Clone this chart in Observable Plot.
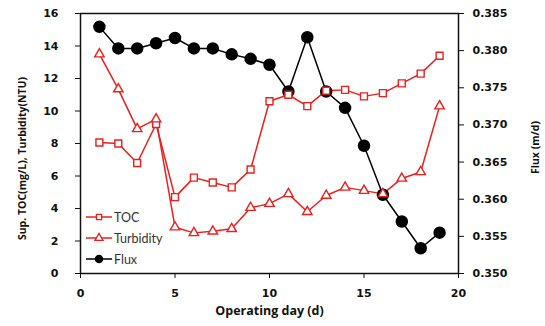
<!DOCTYPE html>
<html><head>
<meta charset="utf-8">
<script src="https://cdn.jsdelivr.net/npm/d3@7"></script>
<script src="https://cdn.jsdelivr.net/npm/@observablehq/plot@0.6"></script>
<style>
body{margin:0;background:#fff}
#wrap{position:relative;width:545px;height:326px;font-family:Lato,"Open Sans",sans-serif}
#legend{position:absolute;left:83px;top:205px}
</style>
</head><body><div id="wrap"></div>
<script>
const days = [1,2,3,4,5,6,7,8,9,10,11,12,13,14,15,16,17,18,19];
const toc = [8.06,8.0,6.8,9.2,4.7,5.9,5.6,5.3,6.4,10.6,11.0,10.3,11.25,11.3,10.9,11.1,11.7,12.3,13.4];
const turbidity = [13.5,11.35,8.9,9.5,2.85,2.5,2.6,2.75,4.05,4.3,4.9,3.8,4.8,5.3,5.1,4.9,5.85,6.25,10.3];
const flux = [0.3832,0.3803,0.3803,0.3810,0.3817,0.3803,0.3803,0.3795,0.3789,0.3781,0.3745,0.3818,0.3745,0.3723,0.3672,0.3606,0.3570,0.3534,0.3555];
const xTicks = [0,5,10,15,20];
const leftTicks = [0,2,4,6,8,10,12,14,16];
const fluxTicks = [0.350,0.355,0.360,0.365,0.370,0.375,0.380,0.385];
const seriesNames = ["TOC","Turbidity","Flux"];
const xLabel = ["Operating day (d)"];
const yLabel = ["Sup. TOC(mg/L), Turbidity(NTU)"];
const y2Label = ["Flux (m/d)"];

const toLeft = d3.scaleLinear([0.350,0.385],[0,16]);
const rows = days.map((d,i)=>({day:d, toc:toc[i], turb:turbidity[i], flux:toLeft(flux[i])}));
const red = "#e8201e";
const tickFont = {fontFamily:"'DejaVu Sans', sans-serif", fontSize:11, fontWeight:"bold", fill:"#111"};
const labFont = {fontFamily:"'Open Sans', sans-serif", fontWeight:"bold", fill:"#111", textAnchor:"middle"};

const chart = Plot.plot({
  width:545, height:326,
  marginLeft:80, marginRight:87, marginTop:13, marginBottom:53,
  style:{background:"#fff", color:"#111"},
  x:{domain:[0,20]},
  y:{domain:[0,16]},
  marks:[
    Plot.frame({stroke:"#111", strokeWidth:1.5}),
    Plot.axisX(xTicks,{tickSize:5, tickPadding:11, label:null, ...tickFont}),
    Plot.axisY(leftTicks,{tickSize:5, tickPadding:17, label:null, ...tickFont}),
    Plot.axisY(fluxTicks.map(v=>toLeft(v)),{anchor:"right", tickSize:5, tickPadding:9, tickFormat:v=>toLeft.invert(v).toFixed(3), label:null, ...tickFont}),
    Plot.text(xLabel,{text:d=>d, frameAnchor:"bottom", dy:41, fontSize:12.5, ...labFont}),
    Plot.text(yLabel,{text:d=>d, frameAnchor:"left", dx:-58, dy:15, rotate:-90, fontSize:10.5, ...labFont}),
    Plot.text(y2Label,{text:d=>d, frameAnchor:"right", dx:77, dy:4, rotate:-90, fontSize:10.5, ...labFont}),
    Plot.line(rows,{x:"day", y:"flux", stroke:"#000", strokeWidth:1.5}),
    Plot.line(rows,{x:"day", y:"toc", stroke:red, strokeWidth:1.5}),
    Plot.line(rows,{x:"day", y:"turb", stroke:red, strokeWidth:1.5}),
    Plot.dot(rows,{x:"day", y:"flux", r:5.5, fill:"#000", stroke:"#000"}),
    Plot.dot(rows,{x:"day", y:"toc", symbol:"square", r:3.9, fill:"#fff", stroke:red, strokeWidth:1.4}),
    Plot.dot(rows,{x:"day", y:"turb", symbol:"triangle", r:3.5, fill:"#fff", stroke:red, strokeWidth:1.4})
  ]
});
const wrap = document.getElementById("wrap");
wrap.appendChild(chart);

// legend overlay
const leg = d3.select(wrap).append("svg").attr("id","legend").attr("width",110).attr("height",64);
const styles = [
  {sym:d3.symbolSquare, r:2.9, fill:"#fff", stroke:red},
  {sym:d3.symbolTriangle, r:3, fill:"#fff", stroke:red},
  {sym:d3.symbolCircle, r:3.6, fill:"#000", stroke:"#000"}
];
seriesNames.forEach((name,i)=>{
  const g = leg.append("g").attr("transform",`translate(0,${12+i*21})`);
  const s = styles[i];
  g.append("line").attr("x1",3).attr("x2",29).attr("stroke",s.stroke).attr("stroke-width",1.5);
  g.append("path").attr("transform","translate(16,0)").attr("d",d3.symbol(s.sym, Math.PI*s.r*s.r)()).attr("fill",s.fill).attr("stroke",s.stroke).attr("stroke-width",1.3);
  g.append("text").attr("x",31).attr("dy","0.36em").attr("font-size",12.5).attr("fill","#333").style("font-family","Lato, 'Open Sans', sans-serif").text(name);
});
</script>
</body></html>
